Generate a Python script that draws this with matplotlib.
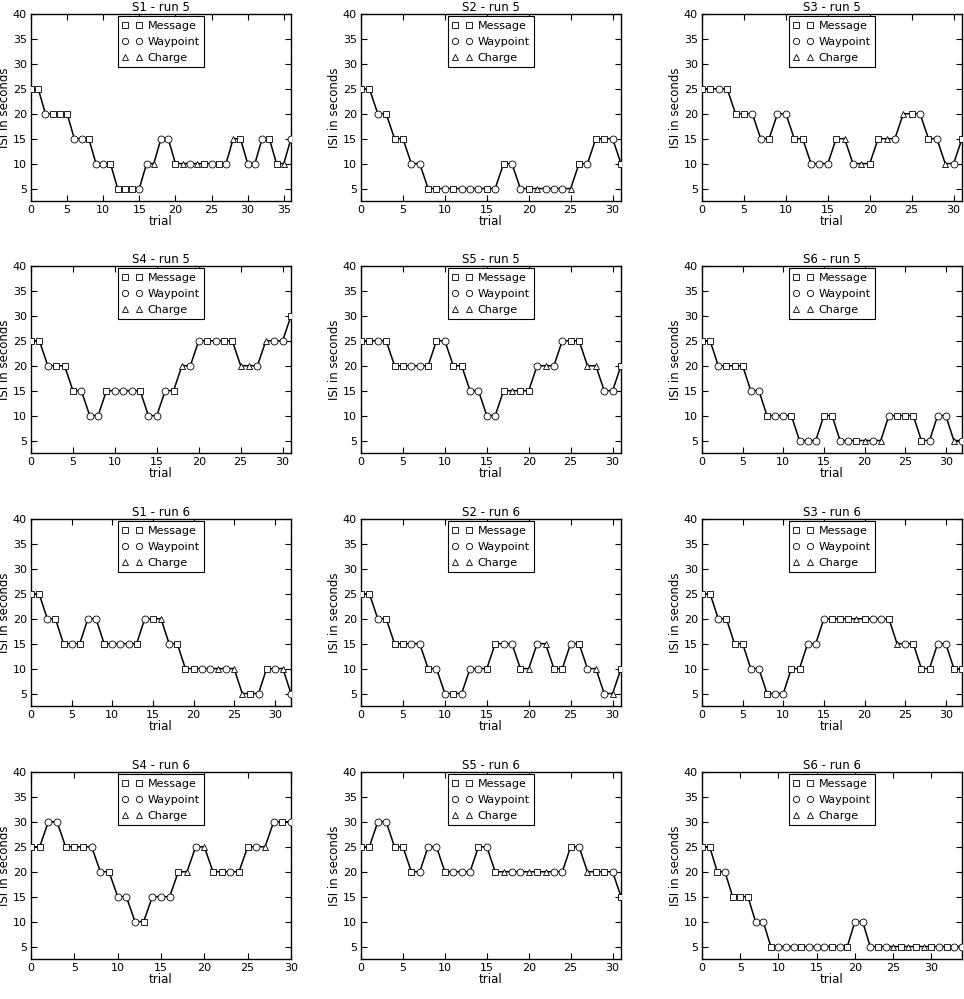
import matplotlib
matplotlib.use("Agg")
import matplotlib.pyplot as plt
import numpy as np

# ISI (s) per trial and event type per trial: M = Message, W = Waypoint, C = Charge
s1_run5_isi = [25, 25, 20, 20, 20, 20, 15, 15, 15, 10, 10, 10, 5, 5, 5, 5, 10, 10, 15, 15,
               10, 10, 10, 10, 10, 10, 10, 10, 15, 15, 10, 10, 15, 15, 10, 10, 15]
s1_run5_type = "MMWMMMWWMWWMMMMWWCWWMCWCMWMWCMWWWMMCW"

s2_run5_isi = [25, 25, 20, 20, 15, 15, 10, 10, 5, 5, 5, 5, 5, 5, 5, 5, 5, 10, 10, 5,
               5, 5, 5, 5, 5, 5, 10, 10, 15, 15, 15, 10]
s2_run5_type = "MMWMMMWWMMWMWWWMWMWWMCWWWCMWMMWM"

s3_run5_isi = [25, 25, 25, 25, 20, 20, 20, 15, 15, 20, 20, 15, 15, 10, 10, 10, 15, 15, 10, 10,
               10, 15, 15, 15, 20, 20, 20, 15, 15, 10, 10, 15]
s3_run5_type = "MMWMMMWWMWWMMWWWMCWCMMCWCMWMWCWM"

s4_run5_isi = [25, 25, 20, 20, 20, 15, 15, 10, 10, 15, 15, 15, 15, 15, 10, 10, 15, 15, 20, 20,
               25, 25, 25, 25, 25, 20, 20, 20, 25, 25, 25, 30]
s4_run5_type = "MMWMMMWWWMWWWMWWWMCWWMWMMCCWCWWM"

s5_run5_isi = [25, 25, 25, 25, 20, 20, 20, 20, 20, 25, 25, 20, 20, 15, 15, 10, 10, 15, 15, 15,
               15, 20, 20, 20, 25, 25, 25, 20, 20, 15, 15, 20]
s5_run5_type = "MMWMMMWWMMWMMWWWWMCMMWCWWMMCCWWM"

s6_run5_isi = [25, 25, 20, 20, 20, 20, 15, 15, 10, 10, 10, 10, 5, 5, 5, 10, 10, 5, 5, 5,
               5, 5, 5, 10, 10, 10, 10, 5, 5, 10, 10, 5, 5]
s6_run5_type = "MMWMMMWWMWWMWWWMMWWMCWCWMMMMWWWCW"

s1_run6_isi = [25, 25, 20, 20, 15, 15, 15, 20, 20, 15, 15, 15, 15, 15, 20, 20, 20, 15, 15, 10,
               10, 10, 10, 10, 10, 10, 5, 5, 5, 10, 10, 10, 5]
s1_run6_type = "MMWMMWMWWMWWWMWMCWMMMWWCWCCMWMWCW"

s2_run6_isi = [25, 25, 20, 20, 15, 15, 15, 15, 10, 10, 5, 5, 5, 10, 10, 10, 15, 15, 15, 10,
               10, 15, 15, 10, 10, 15, 15, 10, 10, 5, 5, 10]
s2_run6_type = "MMWMMMWWMWWMWWWMMWWMCWCMMWMWCWCM"

s3_run6_isi = [25, 25, 20, 20, 15, 15, 10, 10, 5, 5, 5, 10, 10, 15, 15, 20, 20, 20, 20, 20,
               20, 20, 20, 20, 15, 15, 15, 10, 10, 15, 15, 10, 10]
s3_run6_type = "MMWMMMWWMWWMMWWWMMMCMWWMCWMMMWWMM"

s4_run6_isi = [25, 25, 30, 30, 25, 25, 25, 25, 20, 20, 15, 15, 10, 10, 15, 15, 15, 20, 20, 25,
               25, 20, 20, 20, 20, 25, 25, 25, 30, 30, 30]
s4_run6_type = "MMWWMMMWWMWWWMWWWMCWCMMWMMWCWMW"

s5_run6_isi = [25, 25, 30, 30, 25, 25, 20, 20, 25, 25, 20, 20, 20, 20, 25, 25, 20, 20, 20, 20,
               20, 20, 20, 20, 20, 25, 25, 20, 20, 20, 20, 15]
s5_run6_type = "MMWWMMMWWWMWWWMWMCWWCMCWWMWCMMWM"

s6_run6_isi = [25, 25, 20, 20, 15, 15, 15, 10, 10, 5, 5, 5, 5, 5, 5, 5, 5, 5, 5, 5,
               10, 10, 5, 5, 5, 5, 5, 5, 5, 5, 5, 5, 5, 5, 5]
s6_run6_type = "MMMWMMMWWMWWWMWWWMWMWWWMWCMCMCMWMWW"

panels = [
    ("S1 - run 5", s1_run5_isi, s1_run5_type),
    ("S2 - run 5", s2_run5_isi, s2_run5_type),
    ("S3 - run 5", s3_run5_isi, s3_run5_type),
    ("S4 - run 5", s4_run5_isi, s4_run5_type),
    ("S5 - run 5", s5_run5_isi, s5_run5_type),
    ("S6 - run 5", s6_run5_isi, s6_run5_type),
    ("S1 - run 6", s1_run6_isi, s1_run6_type),
    ("S2 - run 6", s2_run6_isi, s2_run6_type),
    ("S3 - run 6", s3_run6_isi, s3_run6_type),
    ("S4 - run 6", s4_run6_isi, s4_run6_type),
    ("S5 - run 6", s5_run6_isi, s5_run6_type),
    ("S6 - run 6", s6_run6_isi, s6_run6_type),
]

event_labels = ["Message", "Waypoint", "Charge"]
event_codes = ["M", "W", "C"]
event_markers = ["s", "o", "^"]

plt.rcParams.update({
    "font.family": "DejaVu Sans",
    "font.size": 8,
    "xtick.direction": "in",
    "ytick.direction": "in",
    "xtick.top": True,
    "ytick.right": True,
    "xtick.major.size": 4,
    "ytick.major.size": 4,
    "xtick.major.pad": 3,
    "ytick.major.pad": 3,
    "axes.linewidth": 1.0,
})

W, H = 964, 999
fig = plt.figure(figsize=(W / 100, H / 100), dpi=100)

col_left = [31, 361, 702]
ax_w = 260
row_top = [14, 266, 519, 772]
ax_h = 187

for k, (title, isi, types) in enumerate(panels):
    r, c = divmod(k, 3)
    ax = fig.add_axes([col_left[c] / W, 1 - (row_top[r] + ax_h) / H, ax_w / W, ax_h / H])
    trial = np.arange(len(isi))
    isi = np.array(isi)
    codes = np.array(list(types))
    ax.plot(trial, isi, "-", color="black", lw=1.1, zorder=2)
    for lab, code, mk in zip(event_labels, event_codes, event_markers):
        sel = codes == code
        ax.plot(trial[sel], isi[sel], linestyle="none", marker=mk, ms=5,
                mfc="white", mec="black", mew=0.6, label=lab, zorder=3)
    ax.set_xlim(0, len(isi) - 1)
    ax.set_ylim(2.5, 40)
    ax.set_yticks(np.arange(5, 41, 5))
    ax.set_xticks(np.arange(0, len(isi), 5))
    ax.set_title(title, fontsize=8.5, pad=2)
    ax.set_xlabel("trial", fontsize=8.5, labelpad=0)
    ax.set_ylabel("ISI in seconds", fontsize=8.5, labelpad=1)
    leg = ax.legend(loc="upper center", numpoints=2, fontsize=8, fancybox=False,
                    framealpha=1, edgecolor="black", borderpad=0.4, labelspacing=0.55,
                    handlelength=1.8, handletextpad=0.5, markerscale=0.9,
                    borderaxespad=0.2)
    leg.get_frame().set_linewidth(0.8)

fig.savefig("out.png", dpi=100)
